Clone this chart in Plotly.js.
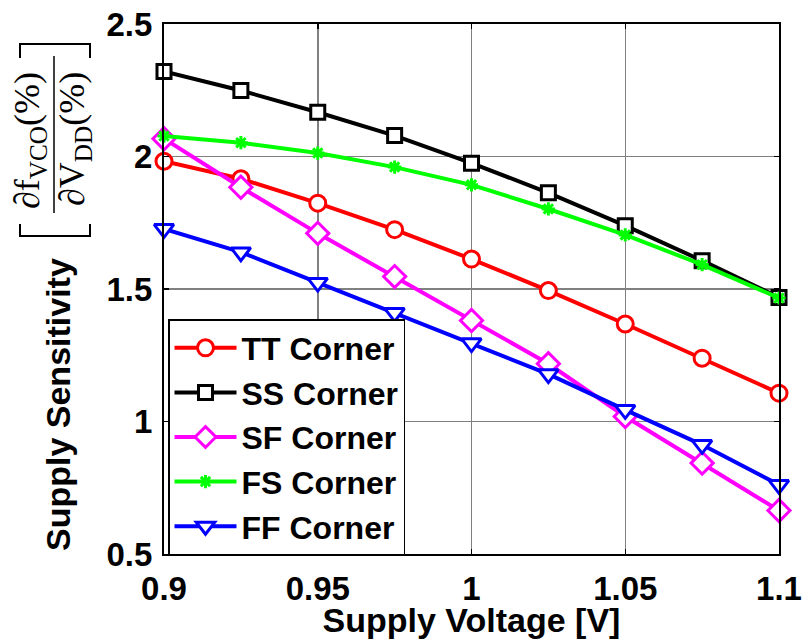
<!DOCTYPE html>
<html>
<head>
<meta charset="utf-8">
<script src="https://cdn.plot.ly/plotly-3.0.1.min.js"></script>
<style>
  html, body { margin: 0; padding: 0; background: #fff; }
  #chart { width: 803px; height: 639px; }
</style>
</head>
<body>
<div id="chart"></div>
<script>
// Supply voltage sweep (V)
const supplyVoltage = [0.9, 0.925, 0.95, 0.975, 1.0, 1.025, 1.05, 1.075, 1.1];

// Supply sensitivity per process corner
const ttCorner = [1.982, 1.916, 1.824, 1.724, 1.613, 1.494, 1.368, 1.239, 1.107];
const ssCorner = [2.321, 2.249, 2.167, 2.079, 1.975, 1.863, 1.739, 1.607, 1.468];
const sfCorner = [2.067, 1.884, 1.710, 1.547, 1.381, 1.218, 1.019, 0.843, 0.664];
const fsCorner = [2.077, 2.052, 2.013, 1.960, 1.893, 1.802, 1.704, 1.592, 1.466];
const ffCorner = [1.727, 1.639, 1.524, 1.410, 1.296, 1.179, 1.044, 0.912, 0.761];

const xTicks = [0.9, 0.95, 1.0, 1.05, 1.1];
const xTickText = ['0.9', '0.95', '1', '1.05', '1.1'];
const yTicks = [0.5, 1.0, 1.5, 2.0, 2.5];
const yTickText = ['0.5', '1', '1.5', '2', '2.5'];

const W = 803, H = 639;
const M = { l: 164, r: 24, t: 24, b: 85 };
const plotW = W - M.l - M.r, plotH = H - M.t - M.b;
// pixel -> paper coordinate helpers for the y-axis labels
const px = x => (x - M.l) / plotW;
const py = y => (H - M.b - y) / plotH;

const sansBold = { family: 'Liberation Sans, Arial, sans-serif', weight: 'bold', color: '#000' };

function series(name, y, color, symbol, size, fill) {
  return {
    x: supplyVoltage, y: y, name: name, type: 'scatter', mode: 'lines+markers',
    cliponaxis: false,
    line: { color: color, width: 4 },
    marker: { symbol: symbol, size: size, color: fill, line: { color: color, width: 3 } }
  };
}

const data = [
  series('TT Corner', ttCorner, '#ff0000', 'circle', 16, '#ffffff'),
  series('SS Corner', ssCorner, '#000000', 'square', 14, '#ffffff'),
  series('SF Corner', sfCorner, '#ff00ff', 'diamond', 17, '#ffffff'),
  series('FS Corner', fsCorner, '#00ff00', 'asterisk-open', 11, '#00ff00'),
  series('FF Corner', ffCorner, '#0000ff', 'triangle-down', 17, '#ffffff')
];

const serif = { family: 'Liberation Serif, DejaVu Serif, serif', size: 36, color: '#000' };

const layout = {
  width: W, height: H,
  margin: M,
  paper_bgcolor: '#fff', plot_bgcolor: '#fff',
  showlegend: true,
  legend: {
    x: px(168), y: py(555), xanchor: 'left', yanchor: 'bottom',
    bgcolor: '#fff', bordercolor: '#000', borderwidth: 1.5,
    font: Object.assign({ size: 32 }, sansBold),
    itemwidth: 62
  },
  xaxis: {
    range: [0.9, 1.1],
    tickvals: xTicks, ticktext: xTickText,
    tickfont: Object.assign({ size: 33 }, sansBold),
    ticks: 'inside', ticklen: 5, tickwidth: 1.5, tickcolor: '#000',
    showgrid: true, gridcolor: '#808080', gridwidth: 1.5,
    showline: true, linecolor: '#000', linewidth: 2, mirror: 'ticks',
    zeroline: false,
    ticklabelstandoff: 4,
    title: { text: 'Supply Voltage [V]', font: Object.assign({ size: 34 }, sansBold), standoff: 0 }
  },
  yaxis: {
    range: [0.5, 2.5],
    tickvals: yTicks, ticktext: yTickText,
    tickfont: Object.assign({ size: 33 }, sansBold),
    ticks: 'inside', ticklen: 5, tickwidth: 1.5, tickcolor: '#000',
    showgrid: true, gridcolor: '#808080', gridwidth: 1.5,
    showline: true, linecolor: '#000', linewidth: 2, mirror: 'ticks',
    zeroline: false,
    ticklabelstandoff: 3
  },
  annotations: [
    // y-axis title, placed below the bracketed fraction
    { xref: 'paper', yref: 'paper', x: px(58), y: py(405), xanchor: 'center', yanchor: 'middle',
      text: 'Supply Sensitivity', textangle: -90, showarrow: false,
      font: Object.assign({ size: 34 }, sansBold) },
    { xref: 'paper', yref: 'paper', x: px(30), y: py(141), xanchor: 'center', yanchor: 'middle',
      text: '∂f<sub>VCO</sub>(%)', textangle: -90, showarrow: false, font: serif },
    { xref: 'paper', yref: 'paper', x: px(75), y: py(139), xanchor: 'center', yanchor: 'middle',
      text: '∂V<sub>DD</sub>(%)', textangle: -90, showarrow: false, font: serif }
  ],
  shapes: [
    // fraction bar
    { type: 'line', xref: 'paper', yref: 'paper', x0: px(54), x1: px(54), y0: py(56), y1: py(213),
      line: { color: '#000', width: 1.5 } },
    // closing bracket (top)
    { type: 'path', xref: 'paper', yref: 'paper',
      path: `M ${px(20)} ${py(58)} L ${px(20)} ${py(44)} L ${px(90)} ${py(44)} L ${px(90)} ${py(58)}`,
      line: { color: '#000', width: 2 } },
    // opening bracket (bottom)
    { type: 'path', xref: 'paper', yref: 'paper',
      path: `M ${px(20)} ${py(224)} L ${px(20)} ${py(236)} L ${px(90)} ${py(236)} L ${px(90)} ${py(224)}`,
      line: { color: '#000', width: 2 } }
  ]
};

Plotly.newPlot('chart', data, layout, { staticPlot: true });
</script>
</body>
</html>
